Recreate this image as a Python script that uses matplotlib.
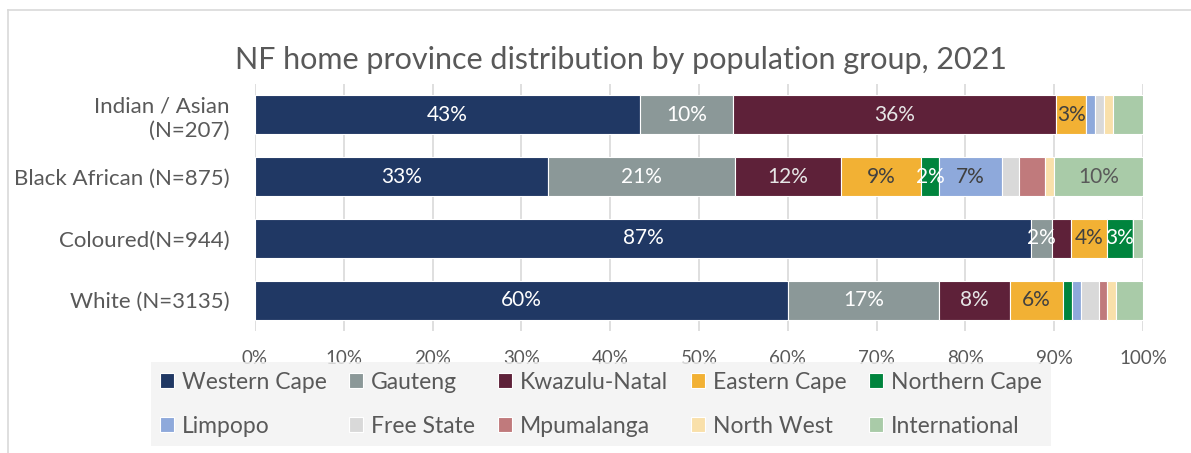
import matplotlib.pyplot as plt
import numpy as np
from matplotlib.lines import Line2D

plt.rcParams['font.family'] = ['Lato', 'DejaVu Sans']

# population groups, top to bottom
groups = ['Indian / Asian\n(N=207)', 'Black African (N=875)', 'Coloured(N=944)', 'White (N=3135)']
provinces = ['Western Cape', 'Gauteng', 'Kwazulu-Natal', 'Eastern Cape', 'Northern Cape',
             'Limpopo', 'Free State', 'Mpumalanga', 'North West', 'International']

# share (%) of each group by home province, one list per province
western_cape = [43.4, 33.0, 87.4, 60.0]
gauteng = [10.4, 21.0, 2.4, 17.0]
kwazulu_natal = [36.4, 12.0, 2.1, 8.0]
eastern_cape = [3.4, 9.0, 4.0, 6.0]
northern_cape = [0.0, 2.0, 3.0, 1.0]
limpopo = [1.0, 7.1, 0.0, 1.0]
free_state = [1.0, 1.9, 0.0, 2.0]
mpumalanga = [0.0, 3.0, 0.0, 1.0]
north_west = [1.0, 1.0, 0.0, 1.0]
international = [3.4, 10.0, 1.1, 3.0]

series = [western_cape, gauteng, kwazulu_natal, eastern_cape, northern_cape,
          limpopo, free_state, mpumalanga, north_west, international]

# which segments carry a data label
labelled = [
    [True, True, True, True],
    [True, True, True, True],
    [True, True, False, True],
    [True, True, True, True],
    [False, True, True, False],
    [False, True, False, False],
    [False, False, False, False],
    [False, False, False, False],
    [False, False, False, False],
    [False, True, False, False],
]

colors = ['#203864', '#8B9898', '#5E2139', '#F2B134', '#00843D',
          '#8EA9DB', '#D9D9D9', '#C07A7C', '#F9E0AA', '#A9CBA8']
label_colors = ['white', 'white', '#E6E6E6', '#404040', 'white',
                '#404040', '#404040', 'white', '#404040', '#595959']

grey = '#595959'

fig = plt.figure(figsize=(11.91, 4.53), dpi=100)
ax = fig.add_axes([0.2141, 0.2693, 0.7456, 0.5453])

y = np.arange(len(groups))
left = np.zeros(len(groups))
handles = []
for vals, flags, col, lcol, name in zip(series, labelled, colors, label_colors, provinces):
    vals = np.array(vals)
    bars = ax.barh(y, vals, left=left, height=0.635, color=col,
                   edgecolor='white', linewidth=0.8, label=name, zorder=3)
    handles.append(bars)
    for b, v, show in zip(bars, vals, flags):
        if show:
            ax.text(b.get_x() + b.get_width() / 2, b.get_y() + b.get_height() / 2,
                    f'{v:.0f}%', ha='center', va='center', fontsize=15,
                    color=lcol, zorder=4)
    left += vals

ax.set_xlim(0, 100)
ax.set_ylim(-0.5, len(groups) - 0.5)
ax.invert_yaxis()
ax.set_yticks(y)
ax.set_yticklabels(groups, fontsize=16, color=grey, linespacing=1.25)
ax.set_xticks(np.arange(0, 101, 10))
ax.set_xticklabels([f'{t}%' for t in range(0, 101, 10)], fontsize=13.5, color=grey)
ax.tick_params(axis='both', length=0)
ax.tick_params(axis='x', pad=14)
ax.tick_params(axis='y', pad=18)
ax.grid(axis='x', color='#D9D9D9', linewidth=1.2, zorder=0)
for s in ax.spines.values():
    s.set_visible(False)

fig.text(0.521, 0.868, 'NF home province distribution by population group, 2021',
         ha='center', va='center', fontsize=22, color=grey)

# legend fills column by column, so interleave the two rows
order = [0, 5, 1, 6, 2, 7, 3, 8, 4, 9]
leg = fig.legend([handles[i] for i in order], [provinces[i] for i in order],
                 loc='center', bbox_to_anchor=(0.5045, 0.108), ncol=5,
                 fontsize=16.5, frameon=True, facecolor='#F2F2F2', edgecolor='none',
                 fancybox=False, handlelength=0.6, handleheight=0.6,
                 handletextpad=0.35, columnspacing=1.0, labelspacing=1.0,
                 borderpad=0.4, borderaxespad=0)
for t in leg.get_texts():
    t.set_color(grey)
for h in leg.legend_handles:
    h.set_edgecolor('white')

# light chart-area border
fig.add_artist(Line2D([0.0067, 1.0], [0.978, 0.978], color='#D9D9D9', linewidth=1.2))
fig.add_artist(Line2D([0.0067, 0.0067], [0.0, 0.978], color='#D9D9D9', linewidth=1.2))

fig.savefig('out.png', dpi=100)
